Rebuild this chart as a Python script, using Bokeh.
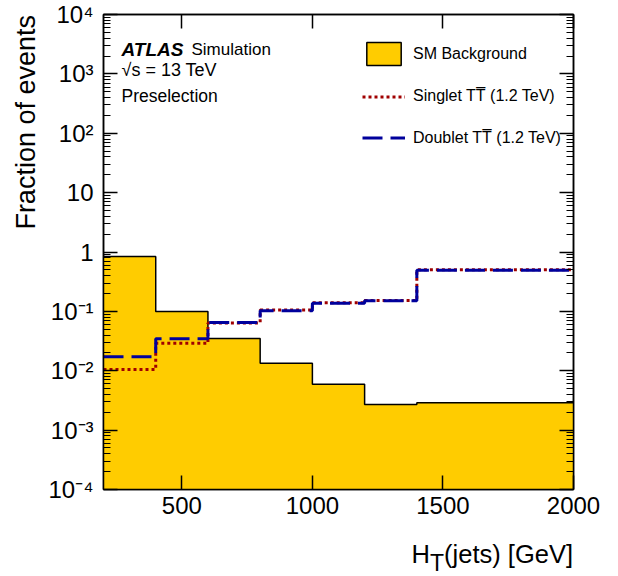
import math
from bokeh.plotting import figure
from bokeh.layouts import column, row
from bokeh.models import (Range1d, FixedTicker, LogAxis, LinearAxis, CustomJSTickFormatter,
                          Label, Legend, LegendItem, Div)
from bokeh.embed import file_html
from bokeh.resources import INLINE

# ---------------- data ----------------
bin_edges = [200, 400, 600, 800, 1000, 1200, 1400, 2000]
sm_background = [0.84, 0.10, 0.035, 0.0134, 0.0059, 0.0027, 0.0029]
singlet = [0.0105, 0.029, 0.064, 0.105, 0.14, 0.152, 0.50]
doublet = [0.0172, 0.0345, 0.065, 0.102, 0.137, 0.151, 0.494]

x_ticks = [500, 1000, 1500, 2000]
y_ticks = [1e-4, 1e-3, 1e-2, 1e-1, 1, 10, 100, 1000, 10000]
y_tick_labels = ["10\u207b\u2074", "10\u207b\u00b3", "10\u207b\u00b2", "10\u207b\u00b9", "1", "10",
                 "10\u00b2", "10\u00b3", "10\u2074"]

legend_labels = ["SM Background", "Singlet TT\u0305 (1.2 TeV)", "Doublet TT\u0305 (1.2 TeV)"]
y_title = "Fraction of events"

FONT = "Liberation Sans"
GOLD = "#FFCC00"
RED = "#A00000"
BLUE = "#00009C"

p = figure(width=578, height=530, x_range=Range1d(200, 2000), y_range=Range1d(1e-4, 1e4),
           y_axis_type="log", output_backend="svg", toolbar_location=None,
           min_border_left=63, min_border_right=45, min_border_top=14, min_border_bottom=41,
           margin=0)
p.xgrid.visible = False
p.ygrid.visible = False
p.outline_line_color = "black"
p.outline_line_width = 1.5
p.background_fill_color = "white"
p.border_fill_color = "white"

# background histogram: filled step area + top outline
sm_steps = sm_background + [sm_background[-1]]
p.varea_step(x=bin_edges, y1=[1e-6] * len(bin_edges), y2=sm_steps, step_mode="after",
             fill_color=GOLD)
p.step(x=bin_edges, y=sm_steps, mode="after", line_color="black", line_width=1.5)

r_s = p.step(x=bin_edges, y=singlet + [singlet[-1]], mode="after",
             line_color=RED, line_width=3, line_dash="3 3")
r_d = p.step(x=bin_edges, y=doublet + [doublet[-1]], mode="after",
             line_color=BLUE, line_width=3, line_dash="20 8")

# degenerate (zero-size) proxy renderer, used only for the legend box
r_box = p.quad(left=bin_edges[:1], right=bin_edges[:1], top=sm_background[:1],
               bottom=sm_background[:1], fill_color=GOLD, line_color="black", line_width=1.5)

# ---------------- axes ----------------
y_minor = [k * 10.0 ** d for d in range(-4, 4) for k in range(2, 10)]
yticker = FixedTicker(ticks=y_ticks, minor_ticks=y_minor)
xticker = FixedTicker(ticks=x_ticks, minor_ticks=[])

yfmt = CustomJSTickFormatter(args=dict(vals=y_ticks, labels=y_tick_labels), code="""
for (let i = 0; i < vals.length; i++) {
  if (Math.abs(Math.log10(tick) - Math.log10(vals[i])) < 1e-6) return labels[i];
}
return '';
""")
blank = CustomJSTickFormatter(code="return '';")

def style(ax, major=14, minor=7):
    ax.axis_line_color = "black"
    ax.axis_line_width = 1.5
    ax.major_tick_line_color = "black"
    ax.major_tick_line_width = 1.5
    ax.minor_tick_line_color = "black"
    ax.minor_tick_line_width = 1.2
    ax.major_tick_in = major
    ax.major_tick_out = 0
    ax.minor_tick_in = minor
    ax.minor_tick_out = 0
    ax.major_label_text_font = FONT
    ax.major_label_text_font_size = "24px"
    ax.major_label_text_color = "black"

xa = p.xaxis[0]
xa.ticker = xticker
style(xa)
xa.major_label_standoff = 7

ya = p.yaxis[0]
ya.ticker = yticker
ya.formatter = yfmt
style(ya)
ya.major_label_standoff = 10

top = LinearAxis(ticker=FixedTicker(ticks=x_ticks, minor_ticks=[]), formatter=blank)
style(top)
p.add_layout(top, "above")
right = LogAxis(ticker=FixedTicker(ticks=y_ticks, minor_ticks=y_minor), formatter=blank)
style(right)
p.add_layout(right, "right")

# ---------------- legends ----------------
for r, lab, vy in [(r_box, legend_labels[0], 421), (r_s, legend_labels[1], 378.5),
                   (r_d, legend_labels[2], 337)]:
    lg = Legend(items=[LegendItem(label=lab, renderers=[r])], location=(259, vy),
                glyph_width=43, glyph_height=29, label_standoff=8, padding=0, margin=0,
                spacing=0, border_line_color=None, background_fill_alpha=0,
                label_text_font=FONT, label_text_font_size="16px", label_text_color="black")
    p.add_layout(lg)

# ---------------- texts ----------------
def lab(text, x, y, size, style="normal", align="left", angle=0):
    p.add_layout(Label(x=x, y=y, x_units="screen", y_units="screen", text=text,
                       text_font=FONT, text_font_size=size, text_font_style=style,
                       text_align=align, text_baseline="alphabetic", angle=angle,
                       text_color="black"))

lab("ATLAS", 18, 440.5, "19px", "bold italic")
lab("Simulation", 88, 440.5, "17px")
lab("\u221as = 13 TeV", 18, 419.5, "18px")
lab("Preselection", 18, 394, "17.5px")

xlabel = Div(
    text=('<div style="width:533px;text-align:right;white-space:nowrap;'
          "font-family:'Liberation Sans';font-size:25.5px;line-height:26px;color:black;"
          'padding-top:11px;">H<span style="position:relative;top:8px;font-size:23px;">T</span>'
          '(jets) [GeV]</div>'),
    width=578, height=46, margin=0, styles={"overflow": "visible"})

ylabel = Div(
    text=('<div style="width:300px;height:27px;line-height:27px;text-align:right;'
          "white-space:nowrap;font-family:'Liberation Sans';font-size:27px;color:black;"
          'transform-origin:0 0;transform:translate(12.7px,315px) rotate(-90deg);">'
          + y_title + '</div>'),
    width=40, height=576, margin=0, styles={"overflow": "visible"})

layout = row(ylabel, column(p, xlabel, spacing=0, margin=0), spacing=0, margin=0)

open("out.html", "w").write(file_html(layout, INLINE))
